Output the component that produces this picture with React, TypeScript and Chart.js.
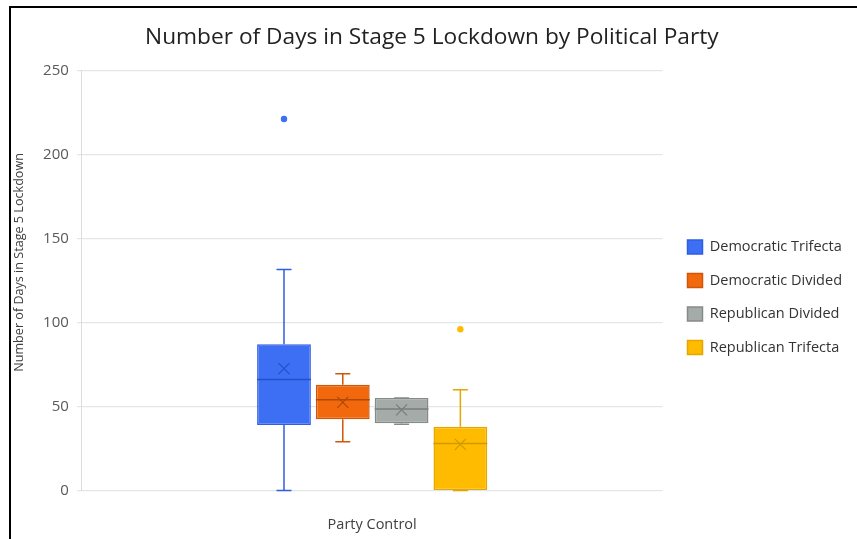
import React, { useEffect, useRef } from "react";
import { Chart, registerables } from "chart.js";

Chart.register(...registerables);

const categories = ["Party Control"];
const seriesNames = ["Democratic Trifecta", "Democratic Divided", "Republican Divided", "Republican Trifecta"];
const q1Values = [39, 42.5, 40, 0];
const q3Values = [87, 63, 55, 38];
const medianValues = [66, 54, 48.5, 28];
const meanValues = [72.5, 52.5, 48, 27.5];
const lowWhisker = [0, 29, 39.5, 0];
const highWhisker = [131.5, 69.5, 55, 60];
const outlierValues = [[221], [], [], [96]];
const yTicks = [0, 50, 100, 150, 200, 250];

const fillColors = ["#3D6FF5", "#F2680D", "#A5ABA9", "#FFBB00"];
const edgeColors = ["#2D5EE3", "#D0560A", "#858B89", "#E3A700"];
const lineColors = ["#2450C8", "#B04808", "#787E7C", "#CF9A00"];

const boxPlotPlugin = {
  id: "boxPlotExtras",
  afterDatasetsDraw(chart: any) {
    const ctx = chart.ctx;
    const y = chart.scales.y;
    chart.data.datasets.forEach((_ds: any, i: number) => {
      const meta = chart.getDatasetMeta(i);
      const bar = meta.data[0];
      if (!bar) return;
      const x = bar.x;
      const w = bar.width;
      const yQ1 = y.getPixelForValue(q1Values[i]);
      const yQ3 = y.getPixelForValue(q3Values[i]);
      const yLo = y.getPixelForValue(lowWhisker[i]);
      const yHi = y.getPixelForValue(highWhisker[i]);
      const yMed = y.getPixelForValue(medianValues[i]);
      const yMean = y.getPixelForValue(meanValues[i]);
      const cap = 7.5;
      ctx.save();
      ctx.strokeStyle = edgeColors[i];
      ctx.lineWidth = 1.5;
      ctx.beginPath();
      ctx.moveTo(x, yQ3);
      ctx.lineTo(x, yHi);
      ctx.moveTo(x - cap, yHi);
      ctx.lineTo(x + cap, yHi);
      ctx.moveTo(x, yQ1);
      ctx.lineTo(x, yLo);
      ctx.moveTo(x - cap, yLo);
      ctx.lineTo(x + cap, yLo);
      ctx.stroke();
      ctx.strokeStyle = lineColors[i];
      ctx.lineWidth = 1.5;
      ctx.beginPath();
      ctx.moveTo(x - w / 2, yMed);
      ctx.lineTo(x + w / 2, yMed);
      ctx.stroke();
      const m = 5.5;
      ctx.lineWidth = 1.2;
      ctx.beginPath();
      ctx.moveTo(x - m, yMean - m);
      ctx.lineTo(x + m, yMean + m);
      ctx.moveTo(x + m, yMean - m);
      ctx.lineTo(x - m, yMean + m);
      ctx.stroke();
      ctx.fillStyle = fillColors[i];
      outlierValues[i].forEach((v) => {
        const yo = y.getPixelForValue(v);
        ctx.beginPath();
        ctx.arc(x, yo, 3.2, 0, Math.PI * 2);
        ctx.fill();
      });
      ctx.restore();
    });
  },
};

export default function App() {
  const canvasRef = useRef<HTMLCanvasElement | null>(null);

  useEffect(() => {
    if (!canvasRef.current) return;
    Chart.defaults.font.family = "'Open Sans', sans-serif";
    const chart = new Chart(canvasRef.current, {
      type: "bar",
      data: {
        labels: categories,
        datasets: seriesNames.map((name, i) => ({
          label: name,
          data: [[q1Values[i], q3Values[i]]] as any,
          backgroundColor: fillColors[i],
          borderColor: edgeColors[i],
          borderWidth: 1.5,
          borderSkipped: false,
          categoryPercentage: 0.405,
          barPercentage: 0.915,
        })),
      },
      options: {
        animation: false,
        responsive: false,
        maintainAspectRatio: false,
        layout: { padding: { top: 0, left: 0, right: 5, bottom: 0 } },
        plugins: {
          title: {
            display: true,
            text: "  Number of Days in Stage 5 Lockdown by Political Party",
            color: "#222222",
            font: { size: 22.7, weight: "normal" },
            padding: { top: 24, bottom: 19 },
          },
          legend: {
            position: "right",
            align: "center",
            title: { display: true, text: " ", padding: { top: 20, bottom: 20 }, font: { size: 13 } },
            labels: {
              boxWidth: 15,
              boxHeight: 14,
              padding: 19,
              color: "#333333",
              font: { size: 14.5 },
            },
          },
          tooltip: { enabled: false },
        },
        scales: {
          x: {
            grid: { display: false, drawTicks: false },
            border: { display: false },
            ticks: { display: false },
            title: {
              display: true,
              text: categories[0],
              color: "#404040",
              font: { size: 14.5 },
              padding: { top: 26, bottom: 5 },
            },
          },
          y: {
            min: 0,
            max: 250,
            afterBuildTicks: (scale: any) => {
              scale.ticks = yTicks.map((v) => ({ value: v }));
            },
            grid: { color: "#E3E6E6", tickLength: 5, lineWidth: 1.2 },
            border: { color: "#DADDDD" },
            ticks: { color: "#595959", font: { size: 15 }, padding: 8 },
            title: {
              display: true,
              text: "           Number of Days in Stage 5 Lockdown",
              color: "#404040",
              font: { size: 12.6 },
              padding: { top: 12, bottom: 8 },
            },
          },
          y2: {
            position: "right",
            display: false,
            afterFit: (scale: any) => {
              scale.width = 6;
            },
          },
        },
      } as any,
      plugins: [boxPlotPlugin],
    });
    return () => chart.destroy();
  }, []);

  return (
    <div
      style={{
        position: "fixed",
        left: 0,
        top: 0,
        width: 857,
        height: 539,
        overflow: "hidden",
        background: "#ffffff",
      }}
    >
      <canvas ref={canvasRef} width={857} height={539} style={{ display: "block" }} />
      <div
        style={{
          position: "absolute",
          left: 9,
          top: 6,
          width: 900,
          height: 600,
          borderLeft: "2px solid #000",
          borderTop: "2px solid #000",
          pointerEvents: "none",
        }}
      />
    </div>
  );
}
